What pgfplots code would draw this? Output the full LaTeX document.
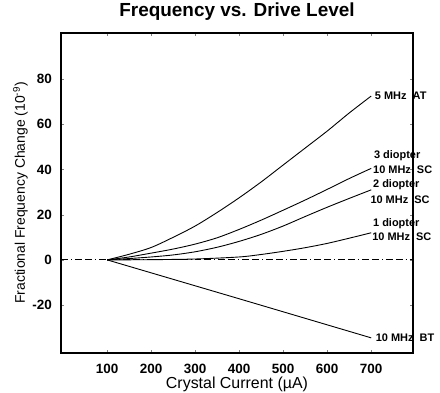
\documentclass[border=0pt]{standalone}
\usepackage{fontspec}
\setmainfont{Liberation Sans}
\usepackage{pgfplots}
\pgfplotsset{compat=1.18}
\begin{document}
\begin{tikzpicture}
\begin{axis}[
  scale only axis,
  width=352bp, height=320bp,
  xmin=-5, xmax=795, ymin=-41.2, ymax=100.4,
  xtick={100,200,...,700}, ytick={-20,0,20,40,60,80},
  tick pos=both, tick align=inside, major tick length=3pt,
  axis line style={line width=1.1pt},
  /pgf/number format/assume math mode=true,
  tick label style={font=\bfseries\fontsize{13.5}{14}\selectfont, inner sep=0pt},
  xticklabel style={anchor=base, yshift=-20bp},
  yticklabel style={anchor=east, xshift=-9bp},
  xlabel={Crystal Current (µA)},
  ylabel={Fractional Frequency Change (10\textsuperscript{-9})},
  xlabel style={font=\fontsize{16}{17}\selectfont, at={(axis description cs:0.5,0)}, anchor=base, yshift=-35bp, inner sep=0pt},
  ylabel style={font=\fontsize{14}{15}\selectfont, at={(axis description cs:0,0.5)}, anchor=base, yshift=36bp, inner sep=0pt},
  title={Frequency vs. Drive Level},
  title style={font=\bfseries\fontsize{19}{20}\selectfont, at={(axis description cs:0.5,1)}, anchor=base, yshift=11bp, inner sep=0pt},
  clip=false,
]
\coordinate (sw) at (rel axis cs:0,0);
\coordinate (ne) at (rel axis cs:1,1);
\addplot[black, line width=0.8pt, dash pattern=on 7pt off 3pt on 1pt off 3pt on 7pt off 3pt] coordinates {(-5,0)(795,0)};
% 5 MHz AT
\addplot[black, line width=0.9pt, smooth] coordinates {(100,0)(150,2.5)(200,5.5)(250,10)(300,15)(350,21)(400,27.5)(450,34.5)(500,42)(550,49.5)(600,57)(650,65)(700,72.5)};
% 3 diopter 10 MHz SC
\addplot[black, line width=0.9pt, smooth] coordinates {(100,0)(150,1.3)(200,3)(250,4.8)(300,7)(350,9.8)(400,13.5)(450,17.6)(500,22)(550,26.5)(600,31.2)(650,36)(700,40.5)};
% 2 diopter 10 MHz SC
\addplot[black, line width=0.9pt, smooth] coordinates {(100,0)(150,0.6)(200,1.3)(250,2.2)(300,3.6)(350,5.6)(400,8.2)(450,11.3)(500,15)(550,19.2)(600,23.3)(650,27.2)(700,31)};
% 1 diopter 10 MHz SC
\addplot[black, line width=0.9pt, smooth] coordinates {(100,0)(200,0.1)(300,0.4)(400,1.3)(450,2.4)(500,3.8)(550,5.4)(600,7.3)(650,9.6)(700,12)};
% 10 MHz BT
\addplot[black, line width=0.9pt] coordinates {(100,0)(400,-17.2)(700,-34.5)};
\begin{scope}[every node/.style={anchor=west, inner sep=0pt, font=\bfseries\fontsize{11}{12}\selectfont}]
\node at (axis cs:708,72.5) {5 MHz\ \ AT};
\node at (axis cs:706,46) {3 diopter};
\node at (axis cs:704,39.8) {10 MHz\ \ SC};
\node at (axis cs:704,33.2) {2 diopter};
\node at (axis cs:698,26.5) {10 MHz\ \ SC};
\node at (axis cs:704,15.9) {1 diopter};
\node at (axis cs:702,10.2) {10 MHz\ \ SC};
\node at (axis cs:710,-34.5) {10 MHz\ \ BT};
\end{scope}
\end{axis}
\pgfresetboundingbox
\path ([xshift=-61bp,yshift=-39bp]sw) rectangle ([xshift=27bp,yshift=33bp]ne);
\end{tikzpicture}
\end{document}
